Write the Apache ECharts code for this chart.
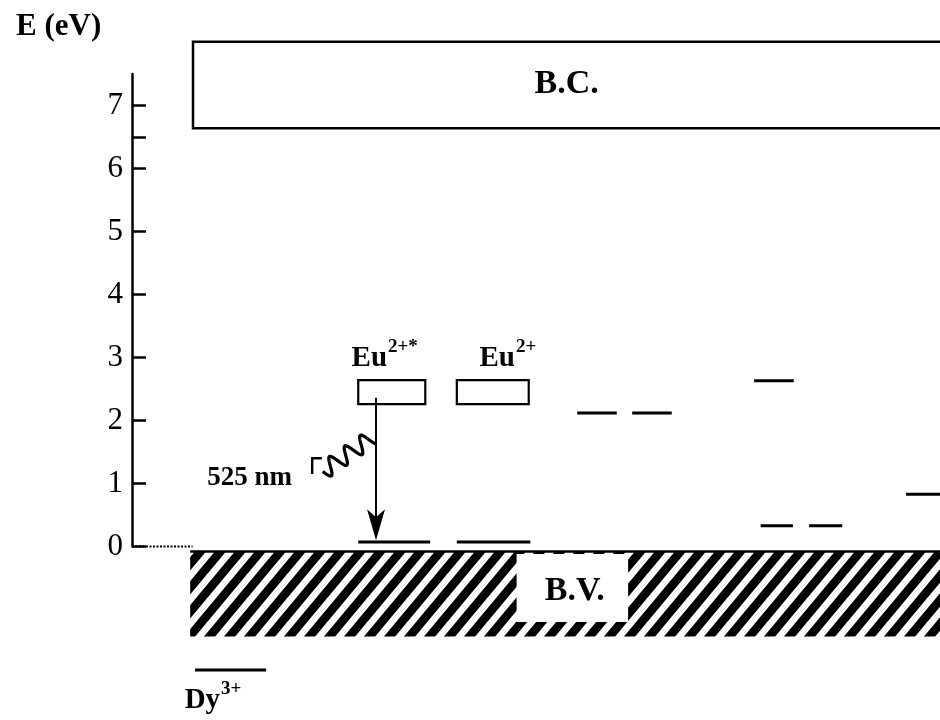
<!DOCTYPE html>
<html><head><meta charset="utf-8">
<script src="https://cdn.jsdelivr.net/npm/echarts@6/dist/echarts.min.js"></script>
<style>html,body{margin:0;padding:0;background:#fff}#c{width:940px;height:720px}</style>
</head><body><div id="c"></div>
<script>
// ---- data (energies in eV, x in arbitrary 0-100 units across the diagram) ----
const yTickValues = [0, 1, 2, 3, 4, 5, 6, 7];
const yExtraTicks = [6.5];
const conductionBand = [[7.55, 101, 6.64, 8.01]];          // x0, x1, Elow, Ehigh
const valenceBand = [[7.2, 101, -1.43, -0.08]];
const valenceLabelBox = [[47.6, 61.4, -1.2, -0.12]];
const euBoxes = [[28.0, 36.3, 2.26, 2.64], [40.2, 49.1, 2.26, 2.64]];
const levelLines = [
  [28.0, 36.9, 0.07], [40.2, 49.3, 0.07],
  [55.1, 60.0, 2.12], [61.9, 66.8, 2.12],
  [77.0, 81.9, 2.63],
  [95.8, 100.5, 0.83],
  [77.8, 81.8, 0.33], [83.8, 87.9, 0.33],
  [7.8, 16.6, -1.96]
];
const zeroReference = [[0, 7.5, 0]];
const emissionArrow = [[30.2, 2.36, 0.10]];               // x, Estart, Eend
const photonWave = [[23.6, 1.19, 29.7, 1.73]];
const photonHook = [[23.5, 1.40, 22.3, 1.40, 22.3, 1.15]];
const bandLabels = ['B.C.', 'B.V.', '525 nm'];
const bandLabelPos = [[53.8, 7.33], [54.8, -0.71], [19.8, 1.09]];
const ionNames = ['Eu', 'Eu', 'Dy'];
const ionCharges = ['2+*', '2+', '3+'];
const ionPos = [[31.56, 2.98], [47.4, 2.98], [10.9, -2.45]];

const SERIF = "'Liberation Serif', 'Times New Roman', serif";

// hatch tile
const tile = document.createElement('canvas');
tile.width = 20; tile.height = 24;
(function () {
  const g = tile.getContext('2d');
  g.fillStyle = '#fff'; g.fillRect(0, 0, 20, 24);
  g.strokeStyle = '#000'; g.lineWidth = 8.5;
  for (let k = -1; k <= 1; k++) {
    g.beginPath(); g.moveTo(k * 20 - 20, 48); g.lineTo(k * 20 + 40, -24); g.stroke();
  }
})();

function rectOf(api, x0, x1, y0, y1) {
  const a = api.coord([x0, y1]), b = api.coord([x1, y0]);
  return { x: a[0], y: a[1], width: b[0] - a[0], height: b[1] - a[1] };
}

const chart = echarts.init(document.getElementById('c'), null, { renderer: 'canvas' });

const option = {
  animation: false,
  backgroundColor: '#fff',
  title: {
    text: 'E (eV)', left: 11, top: 6,
    textStyle: { fontFamily: SERIF, fontWeight: 'bold', fontSize: 31, color: '#000' }
  },
  grid: { left: 132, right: 0, top: 74, bottom: 173.5, containLabel: false },
  xAxis: { type: 'value', min: 0, max: 100, show: false },
  yAxis: {
    type: 'value', min: 0, max: 7.5,
    axisLine: { show: true, lineStyle: { color: '#000', width: 2.5 } },
    axisTick: { show: true, inside: true, length: 14, customValues: yTickValues.concat(yExtraTicks),
      lineStyle: { color: '#000', width: 2.5 } },
    axisLabel: { show: true, customValues: yTickValues, margin: 9, color: '#000',
      fontFamily: SERIF, fontSize: 31 },
    splitLine: { show: false }
  },
  series: [
    { // valence band hatch
      type: 'custom', clip: false, z: 1, data: valenceBand,
      renderItem: function (p, api) {
        const r = rectOf(api, api.value(0), api.value(1), api.value(2), api.value(3));
        return { type: 'group', children: [
          { type: 'rect', shape: r, style: { fill: { image: tile, repeat: 'repeat' }, stroke: null } },
          { type: 'line', shape: { x1: r.x, y1: r.y, x2: r.x + r.width, y2: r.y },
            style: { stroke: '#000', lineWidth: 2.5 } }
        ] };
      }
    },
    { // white box behind B.V.
      type: 'custom', clip: false, z: 2, data: valenceLabelBox,
      renderItem: function (p, api) {
        return { type: 'rect', shape: rectOf(api, api.value(0), api.value(1), api.value(2), api.value(3)),
          style: { fill: '#fff', stroke: null } };
      }
    },
    { // conduction band
      type: 'custom', clip: false, z: 2, data: conductionBand,
      renderItem: function (p, api) {
        return { type: 'rect', shape: rectOf(api, api.value(0), api.value(1), api.value(2), api.value(3)),
          style: { fill: '#fff', stroke: '#000', lineWidth: 2.5 } };
      }
    },
    { // Eu boxes
      type: 'custom', clip: false, z: 3, data: euBoxes,
      renderItem: function (p, api) {
        return { type: 'rect', shape: rectOf(api, api.value(0), api.value(1), api.value(2), api.value(3)),
          style: { fill: 'none', stroke: '#000', lineWidth: 2.2 } };
      }
    },
    { // level lines
      type: 'custom', clip: false, z: 3, data: levelLines,
      renderItem: function (p, api) {
        const a = api.coord([api.value(0), api.value(2)]), b = api.coord([api.value(1), api.value(2)]);
        return { type: 'line', shape: { x1: a[0], y1: a[1], x2: b[0], y2: b[1] },
          style: { stroke: '#000', lineWidth: 3 } };
      }
    },
    { // dotted zero reference
      type: 'custom', clip: false, z: 3, data: zeroReference,
      renderItem: function (p, api) {
        const a = api.coord([api.value(0), api.value(2)]), b = api.coord([api.value(1), api.value(2)]);
        return { type: 'line', shape: { x1: a[0], y1: a[1], x2: b[0], y2: b[1] },
          style: { stroke: '#000', lineWidth: 2, lineDash: [2, 1.5] } };
      }
    },
    { // emission arrow
      type: 'custom', clip: false, z: 4, data: emissionArrow,
      renderItem: function (p, api) {
        const a = api.coord([api.value(0), api.value(1)]), b = api.coord([api.value(0), api.value(2)]);
        const x = b[0], ty = b[1];
        return { type: 'group', children: [
          { type: 'line', shape: { x1: a[0], y1: a[1], x2: x, y2: ty - 20 }, style: { stroke: '#000', lineWidth: 2 } },
          { type: 'polygon', shape: { points: [[x, ty], [x - 9, ty - 31], [x, ty - 23], [x + 9, ty - 31]] },
            style: { fill: '#000' } }
        ] };
      }
    },
    { // photon wave
      type: 'custom', clip: false, z: 4, data: photonWave,
      renderItem: function (p, api) {
        const a = api.coord([api.value(0), api.value(1)]), b = api.coord([api.value(2), api.value(3)]);
        const dx = b[0] - a[0], dy = b[1] - a[1], L = Math.hypot(dx, dy);
        const nx = -dy / L, ny = dx / L;
        const pts = [];
        const N = 3.2, A = 8.5, steps = 140;
        for (let i = 0; i <= steps; i++) {
          const t = i / steps, s = A * Math.sin(2 * Math.PI * N * t);
          pts.push([a[0] + dx * t + nx * s, a[1] + dy * t + ny * s]);
        }
        return { type: 'polyline', shape: { points: pts }, style: { stroke: '#000', lineWidth: 3.2, fill: 'none' } };
      }
    },
    { // photon hook
      type: 'custom', clip: false, z: 4, data: photonHook,
      renderItem: function (p, api) {
        const pts = [];
        for (let i = 0; i < 3; i++) pts.push(api.coord([api.value(2 * i), api.value(2 * i + 1)]));
        return { type: 'polyline', shape: { points: pts }, style: { stroke: '#000', lineWidth: 2.4, fill: 'none' } };
      }
    },
    { // band labels
      type: 'custom', clip: false, z: 5, data: bandLabelPos.map(function (d, i) { return [d[0], d[1], i]; }),
      renderItem: function (p, api) {
        const i = api.value(2);
        const c = api.coord([api.value(0), api.value(1)]);
        const isNm = i === 2;
        return { type: 'text', x: c[0], y: c[1], style: {
          text: bandLabels[i], fill: '#000', font: 'bold ' + (isNm ? 27 : 34) + 'px ' + SERIF,
          align: isNm ? 'right' : 'center', verticalAlign: 'middle' } };
      }
    },
    { // ion labels with superscripts
      type: 'custom', clip: false, z: 5, data: ionPos.map(function (d, i) { return [d[0], d[1], i]; }),
      renderItem: function (p, api) {
        const i = api.value(2);
        const c = api.coord([api.value(0), api.value(1)]);
        return { type: 'group', children: [
          { type: 'text', x: c[0], y: c[1], style: { text: ionNames[i], fill: '#000',
            font: 'bold 29px ' + SERIF, align: 'right', verticalAlign: 'middle' } },
          { type: 'text', x: c[0] + 1, y: c[1] - 12, style: { text: ionCharges[i], fill: '#000',
            font: 'bold 19px ' + SERIF, align: 'left', verticalAlign: 'middle' } }
        ] };
      }
    }
  ]
};
chart.setOption(option);
</script>
</body></html>
